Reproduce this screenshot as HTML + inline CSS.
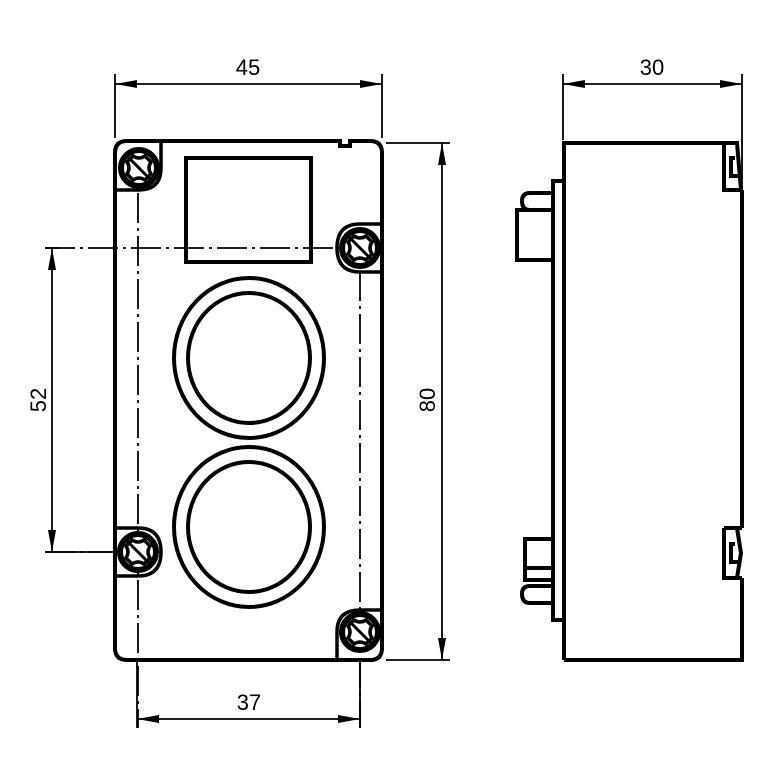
<!DOCTYPE html>
<html><head><meta charset="utf-8"><style>html,body{margin:0;padding:0;background:#fff}svg{display:block}</style></head>
<body>
<svg width="768" height="780" viewBox="0 0 768 780" xmlns="http://www.w3.org/2000/svg">
<defs>
<g id="scr">
<circle cx="0" cy="0" r="18" fill="#fff" stroke="#000" stroke-width="6"/>
<path d="M-6,-12 Q0,-8 6,-12 L12,-6 Q8,0 12,6 L6,12 Q0,8 -6,12 L-12,6 Q-8,0 -12,-6 Z" fill="none" stroke="#000" stroke-width="3.5"/>
<line x1="-14" y1="-14" x2="14" y2="14" stroke="#000" stroke-width="3"/>
</g>
</defs>
<g fill="none" stroke="#000">
<path d="M127,141 H340 V146 H350 V141 H370 Q382,141 382,153 V648 Q382,660 370,660 H127 Q115,660 115,648 V153 Q115,141 127,141 Z" stroke-width="4"/>
<path d="M115,190 H138 Q161,190 161,168 V141" stroke-width="3.5"/>
<path d="M382,224 H360 Q337,224 337,248 Q337,272 360,272 H382" stroke-width="3.5"/>
<path d="M115,528 H138 Q161,528 161,552 Q161,576 138,576 H115" stroke-width="3.5"/>
<path d="M382,610 H360 Q337,610 337,632 V660" stroke-width="3.5"/>
<rect x="186" y="158" width="125" height="104" stroke-width="4"/>
<ellipse cx="249" cy="358" rx="75" ry="80" stroke-width="4"/>
<ellipse cx="249" cy="358" rx="61" ry="65" stroke-width="4"/>
<ellipse cx="249" cy="527" rx="75" ry="80" stroke-width="4"/>
<ellipse cx="249" cy="527" rx="61" ry="65" stroke-width="4"/>
<g stroke-width="1.8" stroke-dasharray="30,5,3,5">
<line x1="138" y1="150" x2="138" y2="728"/>
<line x1="360" y1="228" x2="360" y2="728"/>
<line x1="45" y1="248" x2="380" y2="248"/>
<line x1="45" y1="552" x2="165" y2="552"/>
</g>
</g>
<use href="#scr" x="139" y="168"/>
<use href="#scr" x="360" y="248"/>
<use href="#scr" x="138" y="552"/>
<use href="#scr" x="360" y="632"/>
<g stroke="#000" stroke-width="1.8" fill="none">
<line x1="115" y1="74" x2="115" y2="138"/><line x1="382" y1="74" x2="382" y2="138"/>
<line x1="115" y1="84" x2="382" y2="84"/>
<line x1="563" y1="74" x2="563" y2="140"/><line x1="742" y1="74" x2="742" y2="190"/>
<line x1="563" y1="84" x2="742" y2="84"/>
<line x1="386" y1="143" x2="450" y2="143"/><line x1="386" y1="660" x2="450" y2="660"/>
<line x1="442" y1="143" x2="442" y2="660"/>
<line x1="45" y1="248" x2="60" y2="248"/><line x1="45" y1="552" x2="112" y2="552"/>
<line x1="52" y1="248" x2="52" y2="552"/>
<line x1="137" y1="662" x2="137" y2="728"/><line x1="360" y1="662" x2="360" y2="728"/>
<line x1="137" y1="719" x2="360" y2="719"/>
</g>
<g fill="#000">
<path d="M115,84 L137,80 L137,88 Z"/><path d="M382,84 L360,80 L360,88 Z"/>
<path d="M563,84 L585,80 L585,88 Z"/><path d="M742,84 L720,80 L720,88 Z"/>
<path d="M442,143 L438,165 L446,165 Z"/><path d="M442,660 L438,638 L446,638 Z"/>
<path d="M52,248 L48,270 L56,270 Z"/><path d="M52,552 L48,530 L56,530 Z"/>
<path d="M137,719 L159,715 L159,723 Z"/><path d="M360,719 L338,715 L338,723 Z"/>
</g>
<g font-family="Liberation Sans, sans-serif" font-size="22" fill="#000" text-anchor="middle">
<text x="248" y="75">45</text>
<text x="652" y="75">30</text>
<text x="249" y="710">37</text>
<text transform="translate(46,400) rotate(-90)">52</text>
<text transform="translate(435,400) rotate(-90)">80</text>
</g>
<g fill="none" stroke="#000" stroke-width="4">
<path d="M564,660 V143 H724"/>
<path d="M742,190 V528"/>
<path d="M742,578 V660 H564"/>
<path d="M724,143 H737 L741,190 H724 V143"/>
<path d="M735,158 H731 V176 H738"/>
<path d="M724,528 H742 M724,528 V578 H742 M737,528 L741,553 L737,578"/>
<path d="M735,544 H731 V562 H738"/>
<path d="M564,181 H553 V620 H564"/>
<path d="M553,210 H517 V260 H553"/>
<path d="M553,193 H530 Q522,193 522,201 Q522,210 530,210"/>
<path d="M553,539 H525 V568 H553 M525,568 V580 H553"/>
<path d="M553,586 H530 Q522,586 522,594 Q522,603 530,603 H553"/>
</g>
</svg>
</body></html>
